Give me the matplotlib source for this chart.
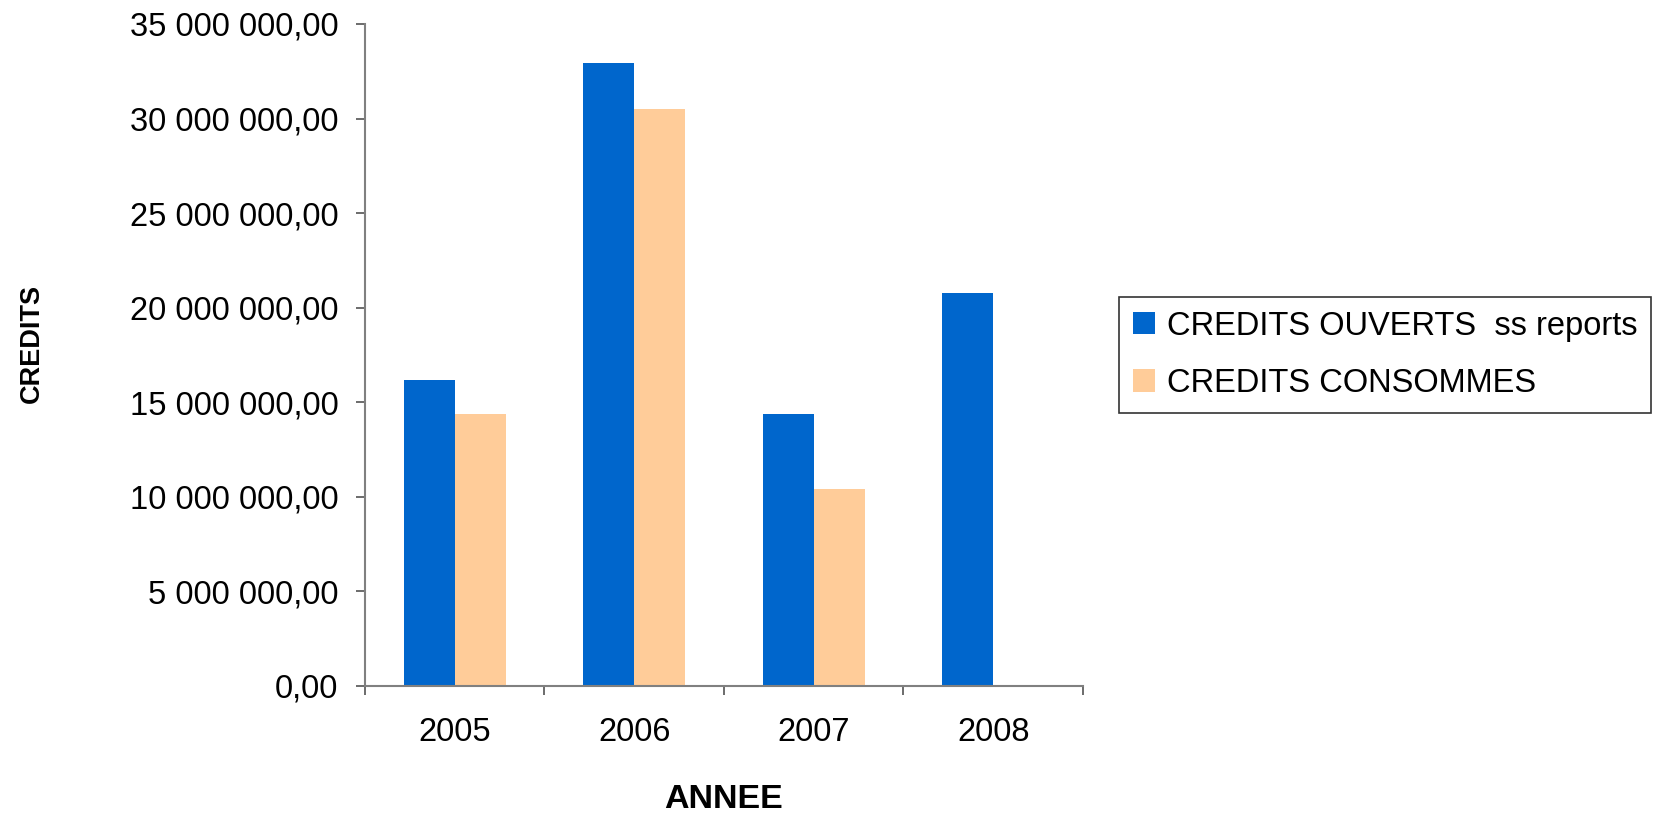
import matplotlib
matplotlib.use("Agg")
import matplotlib.pyplot as plt
from matplotlib.ticker import FuncFormatter, FixedLocator
from matplotlib import font_manager
import numpy as np

years = ["2005", "2006", "2007", "2008"]
credits_ouverts = [16160000, 32960000, 14370000, 20780000]
credits_consommes = [14370000, 30500000, 10400000, None]
series_names = ["CREDITS OUVERTS  ss reports", "CREDITS CONSOMMES"]
colors = ["#0066CC", "#FFCC99"]

names = {f.name for f in font_manager.fontManager.ttflist}
base = "Liberation Sans" if "Liberation Sans" in names else "DejaVu Sans"
plt.rcParams["font.family"] = [base, "DejaVu Sans"]

W, H = 1656, 816
fig = plt.figure(figsize=(W / 100, H / 100), dpi=100)
L, R, T, B = 365, 1083, 24, 686
ax = fig.add_axes([L / W, 1 - B / H, (R - L) / W, (B - T) / H])

x = np.arange(len(years))
w = 0.285
v2 = [np.nan if v is None else v for v in credits_consommes]
ax.bar(x - w / 2, credits_ouverts, width=w, color=colors[0], label=series_names[0], zorder=2)
ax.bar(x + w / 2, v2, width=w, color=colors[1], label=series_names[1], zorder=2)

ax.set_xlim(-0.5, len(years) - 0.5)
ax.set_ylim(0, 35000000)
ax.set_yticks(np.arange(0, 35000001, 5000000))

def fr(v, pos):
    return f"{v:,.2f}".replace(",", " ").replace(".", ",")

ax.yaxis.set_major_formatter(FuncFormatter(fr))
ax.set_xticks(x)
ax.set_xticklabels(years)
ax.xaxis.set_minor_locator(FixedLocator(np.arange(-0.5, len(years), 1.0)))

for s in ["top", "right"]:
    ax.spines[s].set_visible(False)
for s in ["left", "bottom"]:
    ax.spines[s].set_color("#808080")
    ax.spines[s].set_linewidth(1.5)

fs = 23.5
ax.tick_params(axis="y", which="major", direction="out", length=6.5, width=1.3,
               color="#606060", labelsize=fs, pad=12.5)
ax.tick_params(axis="x", which="major", length=0, labelsize=fs, pad=22)
ax.tick_params(axis="x", which="minor", direction="out", length=6.5, width=1.3,
               color="#606060")

fig.text(724 / W, 1 - 799 / H, "ANNEE", ha="center", va="center",
         fontsize=24.5, fontweight="bold")
fig.text(32 / W, 1 - 343 / H, "CREDITS", ha="center", va="center",
         rotation=90, fontsize=19.5, fontweight="bold")

leg = ax.legend(loc="upper left", bbox_to_anchor=(1119 / W, 1 - 297 / H),
                bbox_transform=fig.transFigure, fontsize=23.5, frameon=True,
                fancybox=False, borderaxespad=0, handlelength=0.68,
                handleheight=0.68, handletextpad=0.36, borderpad=0.42,
                labelspacing=0.8)
leg.get_frame().set_edgecolor("black")
leg.get_frame().set_linewidth(1.2)

fig.savefig("out.png", dpi=100)
